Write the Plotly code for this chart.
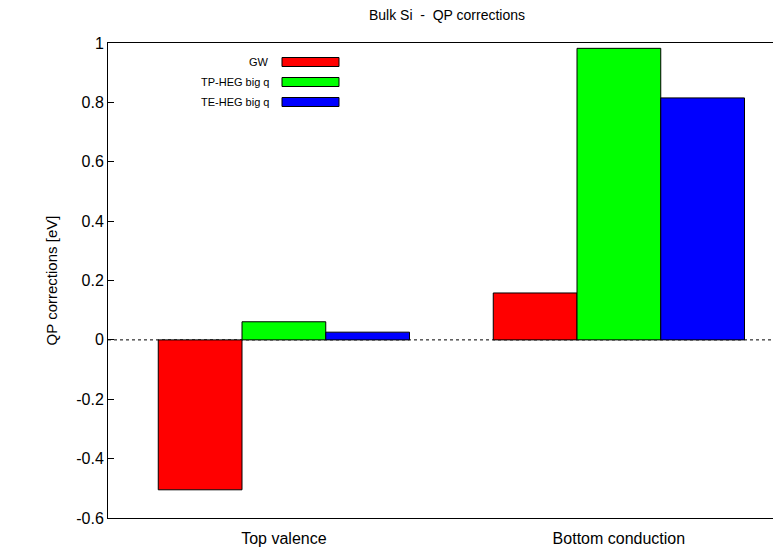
import plotly.graph_objects as go

categories = ["Top valence", "Bottom conduction"]
series_names = ["GW", "TP-HEG big q", "TE-HEG big q"]
gw = [-0.505, 0.158]
tp_heg = [0.061, 0.982]
te_heg = [0.026, 0.815]
y_ticks = [1, 0.8, 0.6, 0.4, 0.2, 0, -0.2, -0.4, -0.6]
y_tick_labels = ["1", "0.8", "0.6", "0.4", "0.2", "0", "-0.2", "-0.4", "-0.6"]

colors = ["#ff0000", "#00ff00", "#0000ff"]
FONT = "Liberation Sans, Arial, sans-serif"

# page has the default 8px body margin: shift the figure so the frame
# lands where the reference has it
OFF = 8
W, H = 781, 554
L, T, R = 108, 43, 0
PLOT_BOTTOM = 518
fig_w = W - OFF
fig_h = H - OFF
pw = W - L - R
ph = PLOT_BOTTOM - T


def px_x(x):
    return (x - L) / pw


def px_y(y):
    return (PLOT_BOTTOM - y) / ph


fig = go.Figure()
x_pos = list(range(len(categories)))
for name, vals, col in zip(series_names, [gw, tp_heg, te_heg], colors):
    fig.add_bar(
        x=x_pos,
        y=vals,
        name=name,
        marker=dict(color=col, line=dict(color="#000000", width=1)),
        showlegend=False,
    )

# dotted zero line
fig.add_shape(
    type="line", xref="paper", yref="y", x0=0, x1=1, y0=0, y1=0,
    line=dict(color="#000000", width=1, dash="dot"), layer="below",
)

# gnuplot-style key: text right-aligned, swatch to the right
key_rows = [62, 82, 102]
for name, col, yc in zip(series_names, colors, key_rows):
    fig.add_annotation(
        x=px_x(271), y=px_y(yc), xref="paper", yref="paper",
        text=name, showarrow=False, xanchor="right", yanchor="middle",
        font=dict(family=FONT, size=11, color="#000000"),
    )
    fig.add_shape(
        type="rect", xref="paper", yref="paper",
        x0=px_x(282), x1=px_x(339), y0=px_y(yc + 4.5), y1=px_y(yc - 4.5),
        fillcolor=col, line=dict(color="#000000", width=1),
    )

fig.update_layout(
    width=fig_w,
    height=fig_h,
    margin=dict(l=L - OFF, r=R, t=T - OFF, b=(OFF + fig_h) - PLOT_BOTTOM,
                pad=0, autoexpand=False),
    plot_bgcolor="white",
    paper_bgcolor="white",
    barmode="group",
    bargap=0.25,
    bargroupgap=0,
    font=dict(family=FONT, size=16, color="#000000"),
    title=dict(
        text="Bulk Si  -  QP corrections",
        x=(447 - OFF) / fig_w, xanchor="center",
        y=1 - 7.5 / fig_h, yanchor="middle",
        font=dict(family=FONT, size=14, color="#000000"),
        automargin=False,
    ),
)

fig.update_xaxes(
    range=[-0.525, -0.525 + pw / 335.0],
    tickvals=x_pos,
    ticktext=categories,
    ticks="",
    ticklabelstandoff=6,
    automargin=False,
    showgrid=False,
    zeroline=False,
    showline=True,
    linecolor="#000000",
    linewidth=1,
    mirror=True,
    tickfont=dict(family=FONT, size=16),
)
fig.update_yaxes(
    range=[-0.6, 1.0],
    tickvals=y_ticks,
    ticktext=y_tick_labels,
    ticks="inside",
    ticklen=6,
    tickwidth=1,
    tickcolor="#000000",
    automargin=False,
    showgrid=False,
    zeroline=False,
    showline=True,
    linecolor="#000000",
    linewidth=1,
    mirror="ticks",
    tickfont=dict(family=FONT, size=16),
    title=dict(text="QP corrections [eV]", font=dict(family=FONT, size=15), standoff=14),
)

fig.write_html("out.html")
